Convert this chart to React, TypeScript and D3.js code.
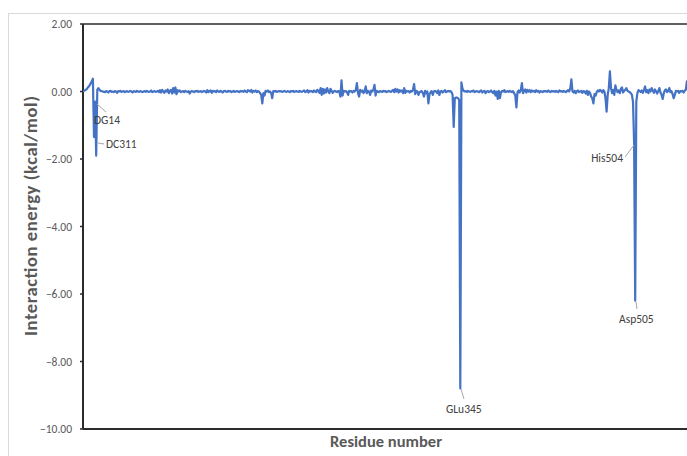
import React from "react";
import * as d3 from "d3";

const values: number[] = [
  0, 0.02, 0.04, 0.06, 0.1, 0.14, 0.18, 0.24, 0.3, 0.38,
  -1.35, -0.3, -1.9, 0.05, 0.1, 0.05, 0.02, 0.01, 0, -0.01,
  -0.02, 0.01, 0, -0.03, 0.01, 0.02, -0.01, 0, -0.02, 0.01,
  0, -0.04, 0.01, 0, 0.02, -0.01, 0, 0.01, -0.02, 0,
  0.01, -0.01, 0, 0.02, 0, -0.03, 0.01, 0, -0.01, 0.02,
  0, -0.01, 0.01, 0, -0.02, 0, 0.01, -0.01, 0.02, 0,
  -0.01, 0, 0.03, -0.02, 0, 0.01, -0.01, 0, 0.02, -0.02,
  0.04, -0.03, 0.05, 0, -0.04, 0.03, 0, 0.06, -0.05, 0.02,
  0.05, -0.06, 0.1, -0.03, 0.12, -0.08, 0.04, 0, 0.03, -0.02,
  0, 0.01, -0.02, 0.02, 0, -0.01, 0.01, -0.06, 0, 0.01,
  0, -0.02, 0.01, 0, 0.02, -0.01, 0, 0.01, -0.02, 0,
  0.02, 0, -0.03, 0.04, -0.02, 0.01, 0.03, -0.04, 0.02, 0,
  0.01, -0.02, 0.03, 0, -0.01, 0.02, 0, -0.03, 0.01, 0.02,
  0, -0.01, 0.02, 0, 0.01, -0.02, 0, 0.02, -0.01, 0,
  0.01, 0, -0.02, 0.02, 0, 0.01, -0.01, 0.03, 0, -0.02,
  0.04, 0.02, 0, 0.05, -0.03, 0.02, 0, 0.03, -0.02, 0.01,
  0, -0.05, -0.1, -0.35, -0.05, -0.12, 0.02, 0, 0.03, -0.02,
  0, -0.04, -0.2, 0.01, 0, 0.02, -0.01, 0, 0.01, 0,
  0.01, -0.01, 0, 0.02, 0, -0.01, 0.01, 0, -0.02, 0.01,
  0, 0.02, -0.01, 0, 0.01, 0, -0.01, 0.02, 0, -0.01,
  0.01, 0.03, -0.02, 0, 0.04, -0.03, 0.02, 0, 0.01, -0.02,
  0.03, 0, -0.02, 0.05, 0.02, -0.04, 0.1, -0.1, 0.08, -0.06,
  0.06, -0.03, 0.1, 0, -0.05, 0.08, 0.02, -0.04, 0, 0.02,
  0, -0.02, 0.02, 0, -0.15, 0.33, -0.12, 0.02, 0, 0.01,
  -0.02, -0.1, 0.02, 0, 0.01, -0.03, 0.02, 0, 0.05, 0.25,
  -0.05, -0.15, 0.05, 0, 0.03, -0.05, 0, 0.15, -0.05, 0.02,
  0, -0.1, 0.03, 0, 0.05, 0.2, -0.12, 0.02, 0, -0.02,
  0.01, 0, -0.01, 0.02, 0, 0.01, -0.02, 0, 0.02, 0,
  -0.01, 0.02, 0.05, -0.02, 0.08, 0, 0.06, -0.03, 0.04, 0,
  0.03, -0.05, 0.1, -0.04, 0.02, 0, 0.01, -0.03, 0.02, 0,
  0.05, 0.22, -0.08, 0.02, 0, -0.1, -0.02, 0, 0.01, -0.05,
  -0.15, 0.02, -0.05, 0, -0.35, -0.08, -0.02, 0.01, -0.1, 0,
  0.02, 0, -0.05, 0.03, -0.1, 0, 0.02, -0.03, 0, 0.04,
  -0.02, 0, 0.02, 0, 0.01, -0.02, -0.1, -1.05, -0.2, -0.18,
  -0.18, -0.2, -0.25, -8.8, 0.27, 0.08, 0.02, 0, 0.01, -0.01,
  0.02, 0, -0.01, 0.01, 0, 0.03, -0.02, 0, 0.01, 0,
  -0.02, 0.01, 0.03, -0.03, 0, 0.02, -0.05, 0, 0.01, -0.02,
  0, 0.03, -0.02, -0.05, 0.02, -0.12, 0, -0.22, 0.02, -0.2,
  -0.02, 0.02, 0, 0.04, -0.02, 0, 0.01, -0.01, 0.02, 0,
  -0.02, 0.01, -0.05, -0.12, -0.47, -0.02, 0.03, -0.03, 0.04, 0.25,
  -0.05, 0.02, 0.06, -0.03, 0.05, 0, 0.04, -0.02, 0.03, 0,
  0.02, -0.02, 0.04, 0, 0.02, -0.03, 0.01, 0, -0.02, 0.02,
  0, 0.01, -0.01, 0.03, 0, -0.02, 0.02, 0, 0.01, -0.01,
  0.02, 0, -0.02, 0.03, 0, 0.01, -0.01, 0.02, 0, -0.02,
  0.01, 0.04, 0, 0.1, 0.36, 0, -0.03, 0.02, -0.05, 0.01,
  0.03, -0.02, 0, 0.02, -0.04, 0.01, 0, -0.06, 0.02, -0.1,
  0, -0.05, -0.15, -0.2, -0.35, -0.08, -0.12, -0.02, 0.03, 0,
  0.05, 0.02, -0.03, 0.04, 0, -0.2, -0.6, -0.1, 0.1, 0.6,
  0.1, -0.05, 0.05, -0.1, 0.18, 0.05, -0.02, 0.03, -0.05, 0.08,
  0.12, -0.03, 0.02, 0.05, 0.1, 0.02, 0, -0.02, -0.05, -0.1,
  -0.3, -1.5, -6.2, -0.3, -0.05, 0.04, 0.02, -0.02, 0.03, -0.04,
  0.05, 0.15, -0.02, 0.04, -0.05, 0.06, 0, 0.1, 0.03, -0.04,
  0.06, 0, -0.06, 0.02, 0.1, -0.03, -0.1, -0.22, -0.05, 0.04,
  0.06, -0.02, 0.02, 0.1, -0.02, 0.01, -0.08, -0.2, -0.1, 0.02,
  0, 0.02, -0.04, 0.01, 0, 0.02, -0.03, 0.02, 0.05, 0.3,
  0.3,
];

const yTicks: number[] = [2, 0, -2, -4, -6, -8, -10];

const annotationNames: string[] = ["DG14", "DC311", "GLu345", "His504", "Asp505"];
const annotationIndex: number[] = [10, 12, 343, 501, 502];

const W = 687;
const H = 456;
const left = 83;
const top = 24;
const bottom = 429;

export default function App() {
  const x = d3.scaleLinear().domain([0, 549]).range([left, 686.9]);
  const y = d3.scaleLinear().domain([-10, 2]).range([bottom, top]);
  const line = d3
    .line<number>()
    .x((_, i) => x(i))
    .y((d) => y(d));

  // label layout: [leader x1,y1,x2,y2, text x, text y, anchor]
  const layout: [number, number, number, number, number, number, string][] = [
    [97, 104, 106, 112, 94, 124, "start"],
    [98, 143, 104, 144, 106, 148, "start"],
    [461, 389, 464, 399, 446, 413, "start"],
    [634, 145, 625, 157, 623, 162, "end"],
    [636, 302, 637, 309, 619, 323, "start"],
  ];

  const font = "Carlito, Calibri, 'Open Sans', sans-serif";

  return (
    <svg width={W} height={H} style={{ position: "absolute", left: 0, top: 0 }}>
      <rect x={0} y={0} width={W} height={H} fill="#fff" />
      <rect x={8.5} y={13.5} width={W} height={H} fill="none" stroke="#d9d9d9" strokeWidth={1} />
      <defs>
        <clipPath id="plotclip">
          <rect x={left} y={0} width={W - left} height={H} />
        </clipPath>
      </defs>
      <line x1={left} y1={top} x2={W} y2={top} stroke="#2b2b2b" strokeWidth={1.5} />
      <line x1={left} y1={top} x2={left} y2={bottom} stroke="#2b2b2b" strokeWidth={2} />
      <line x1={left} y1={bottom} x2={W} y2={bottom} stroke="#2b2b2b" strokeWidth={2} />
      {yTicks.map((t) => (
        <g key={t}>
          <line x1={left - 3} x2={left} y1={y(t)} y2={y(t)} stroke="#2b2b2b" strokeWidth={1.5} />
          <text
            x={72}
            y={y(t)}
            dy="0.35em"
            textAnchor="end"
            fontFamily={font}
            fontSize={11.5}
            fill="#595959"
          >
            {d3.format(".2f")(t)}
          </text>
        </g>
      ))}
      <path
        d={line(values) || ""}
        fill="none"
        stroke="#4472C4"
        strokeWidth={2.2}
        strokeLinejoin="round"
        clipPath="url(#plotclip)"
      />
      {annotationNames.map((name, i) => {
        const L = layout[i];
        return (
          <g key={name}>
            <line x1={L[0]} y1={L[1]} x2={L[2]} y2={L[3]} stroke="#a6a6a6" strokeWidth={1} />
            <text
              x={L[4]}
              y={L[5]}
              textAnchor={L[6] as any}
              fontFamily={font}
              fontSize={11.5}
              fill="#404040"
              data-index={annotationIndex[i]}
            >
              {name}
            </text>
          </g>
        );
      })}
      <text
        transform={`translate(37,${216}) rotate(-90)`}
        textAnchor="middle"
        fontFamily={font}
        fontSize={18.5}
        fontWeight={600}
        fill="#595959"
        textLength={240}
        lengthAdjust="spacing"
      >
        Interaction energy (kcal/mol)
      </text>
      <text
        x={386}
        y={447}
        textAnchor="middle"
        fontFamily={font}
        fontSize={16.5}
        fontWeight={600}
        fill="#595959"
        textLength={112}
        lengthAdjust="spacing"
      >
        Residue number
      </text>
    </svg>
  );
}
